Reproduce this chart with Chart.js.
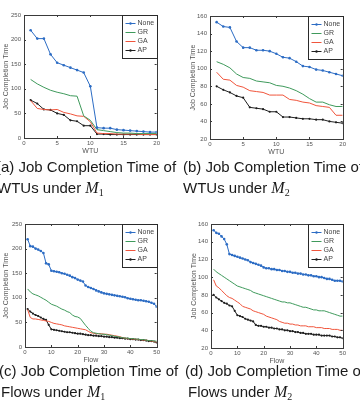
<!DOCTYPE html>
<html>
<head>
<meta charset="utf-8">
<script src="https://cdn.jsdelivr.net/npm/chart.js@4"></script>
<style>
  html, body { margin: 0; padding: 0; background: #fff; }
  body { width: 360px; height: 402px; position: relative; overflow: hidden; font-family: "Liberation Sans", Arial, sans-serif; }
  canvas { position: absolute; }
  .cap { position: absolute; font-size: 15px; color: #1a1a1a; white-space: nowrap; line-height: 22px; }
  .m { font-family: "Liberation Serif", "DejaVu Serif", serif; font-style: italic; font-size: 16px; }
  .m sub { font-style: normal; font-size: 10px; vertical-align: -3px; }
</style>
</head>
<body>
<canvas id="chartA" width="162" height="158" style="left:0;top:0"></canvas>
<canvas id="chartB" width="168" height="159" style="left:180px;top:0"></canvas>
<canvas id="chartC" width="162" height="159" style="left:0;top:208px"></canvas>
<canvas id="chartD" width="168" height="160" style="left:180px;top:208px"></canvas>

<div class="cap" style="left:-4px;top:156px">(a) Job Completion Time of</div>
<div class="cap" style="left:-3px;top:177px">WTUs under <span class="m">M<sub>1</sub></span></div>
<div class="cap" style="left:183px;top:156px">(b) Job Completion Time of</div>
<div class="cap" style="left:183px;top:177px">WTUs under <span class="m">M<sub>2</sub></span></div>
<div class="cap" style="left:-1px;top:360px">(c) Job Completion Time of</div>
<div class="cap" style="left:1px;top:381px">Flows under <span class="m">M<sub>1</sub></span></div>
<div class="cap" style="left:185px;top:360px">(d) Job Completion Time of</div>
<div class="cap" style="left:188px;top:381px">Flows under <span class="m">M<sub>2</sub></span></div>

<script>
// ---- x values ----
const wtu = [1,2,3,4,5,6,7,8,9,10,11,12,13,14,15,16,17,18,19,20];
const flows = [1,2,3,4,5,6,7,8,9,10,11,12,13,14,15,16,17,18,19,20,
               21,22,23,24,25,26,27,28,29,30,31,32,33,34,35,36,37,38,39,40,
               41,42,43,44,45,46,47,48,49,50];

const seriesNames = ['None', 'GR', 'GA', 'AP'];

// ---- (a) WTUs under M1 ----
const aNone = [219,202,202,170,153,148,143,138,133,105,21,20,20,17,16,15,14,13,12,12];
const aGR   = [119,110,103,97,93,90,86,85,45,36,17,15,13,11,10,10,9,9,9,9];
const aGA   = [76,60,58,57,58,52,49,45,44,33,10,9,9,8,8,8,8,7,7,7];
const aAP   = [77,70,58,57,50,47,36,34,25,25,8,8,7,7,7,7,7,7,7,7];

// ---- (b) WTUs under M2 ----
const bNone = [153,148,147,131,124,124,121,121,120,117,113,112,108,103,102,99,98,96,94,92];
const bGR   = [108,105,101,94,90,89,86,85,84,81,80,78,75,71,66,62,62,59,57,57];
const bGA   = [96,88,87,81,79,75,74,73,70,70,70,65,64,62,61,58,57,56,47,47];
const bAP   = [80,76,73,69,67,56,55,54,51,51,45,45,44,43,43,42,42,40,39,38];

// ---- (c) Flows under M1 ----
const cNone = [219,205,204,200,198,195,191,170,168,155,154,153,152,150,149,147,145,142,140,137,
               135,133,125,122,120,118,115,113,111,109,108,107,106,105,104,103,102,101,99,98,
               97,96,95,95,94,93,92,90,88,82];
const cGR   = [118,112,108,106,104,101,98,95,91,87,85,83,80,77,75,72,70,65,62,61,
               58,51,44,38,32,29,28,27,26,26,25,24,23,22,21,20,19,18,18,17,
               17,16,16,15,15,14,13,13,12,12];
const cGA   = [76,60,57,57,56,55,54,53,52,50,48,47,46,45,43,42,41,40,39,38,
               37,36,35,32,29,28,27,27,27,26,26,25,24,23,22,21,19,18,17,17,
               16,16,15,15,14,14,13,12,11,10];
const cAP   = [77,72,68,65,63,60,57,55,45,36,35,34,33,32,31,30,30,29,28,27,
               27,26,25,24,24,23,23,22,22,21,21,20,20,19,19,18,18,17,17,16,
               16,15,15,14,14,13,12,12,11,9];

// ---- (d) Flows under M2 ----
const dNone = [153,150,149,146,143,137,126,125,124,123,122,121,120,119,117,116,115,114,113,111,
               110,110,109,109,108,108,107,107,106,106,105,105,104,104,103,103,102,102,101,101,
               100,100,99,98,98,97,96,96,96,95];
const dGR   = [109,106,104,102,100,98,96,94,92,90,89,88,87,86,85,83,82,81,80,79,
               78,77,76,75,74,73,72,72,71,71,70,69,68,67,66,66,65,64,63,63,
               62,62,62,61,60,59,58,57,56,56];
const dGA   = [97,90,88,85,82,79,77,76,74,72,70,67,66,65,64,62,61,60,59,58,
               56,55,54,53,52,50,49,48,48,47,47,46,46,45,45,45,44,44,44,43,
               43,43,42,42,42,41,41,41,40,40];
const dAP   = [80,77,75,73,71,70,68,67,62,57,56,55,53,52,51,50,46,45,45,44,
               44,43,43,42,42,41,41,40,40,39,39,38,38,37,37,36,36,36,35,35,
               35,34,34,34,34,33,33,32,32,31];

const colors = ['#2c6cc4', '#3f9a5c', '#f0553c', '#1e1e1e'];
const markers = [1.3, 0, 0, 1.1];
const fontFam = '"Liberation Sans", Arial, sans-serif';

// box around plot + inward ticks, MATLAB style
const boxPlugin = {
  id: 'box',
  afterDraw(chart) {
    const ctx = chart.ctx, a = chart.chartArea;
    const xs = chart.scales.x, ys = chart.scales.y;
    ctx.save();
    ctx.strokeStyle = '#3a3a3a';
    ctx.lineWidth = 1;
    ctx.beginPath();
    xs.ticks.forEach(t => {
      const px = Math.round(xs.getPixelForValue(t.value)) + 0.5;
      ctx.moveTo(px, a.bottom); ctx.lineTo(px, a.bottom - 2);
      ctx.moveTo(px, a.top); ctx.lineTo(px, a.top + 2);
    });
    ys.ticks.forEach(t => {
      const py = Math.round(ys.getPixelForValue(t.value)) + 0.5;
      ctx.moveTo(a.left, py); ctx.lineTo(a.left + 2, py);
      ctx.moveTo(a.right, py); ctx.lineTo(a.right - 2, py);
    });
    ctx.stroke();
    ctx.strokeRect(Math.round(a.left) + 0.5, Math.round(a.top) + 0.5,
                   Math.round(a.right - a.left), Math.round(a.bottom - a.top));

    // legend box in the upper right corner
    const w = 35, h = 43;
    const lx = Math.round(a.right - w) + 0.5, ly = Math.round(a.top) + 0.5;
    ctx.fillStyle = '#fff';
    ctx.fillRect(lx, ly, w, h);
    ctx.strokeStyle = '#2a2a2a';
    ctx.strokeRect(lx, ly, w, h);
    ctx.font = '7px ' + fontFam;
    ctx.textBaseline = 'middle';
    chart.data.datasets.forEach((ds, i) => {
      const yy = ly + 8 + i * 9;
      ctx.strokeStyle = ds.borderColor;
      ctx.lineWidth = 1;
      ctx.beginPath();
      ctx.moveTo(lx + 3, yy); ctx.lineTo(lx + 13, yy);
      ctx.stroke();
      if (ds.pointRadius > 0) {
        ctx.fillStyle = ds.borderColor;
        ctx.beginPath();
        ctx.arc(lx + 8, yy, 1.2, 0, Math.PI * 2);
        ctx.fill();
      }
      ctx.fillStyle = '#444';
      ctx.fillText(ds.label, lx + 15, yy);
    });
    ctx.restore();
  }
};

function makeChart(id, xs, series, opt) {
  new Chart(document.getElementById(id), {
    type: 'line',
    data: {
      labels: xs,
      datasets: series.map((s, i) => ({
        label: seriesNames[i],
        data: s,
        borderColor: colors[i],
        backgroundColor: colors[i],
        borderWidth: 1,
        pointRadius: markers[i],
        pointBorderWidth: 0,
        tension: 0,
        fill: false
      }))
    },
    options: {
      responsive: false,
      animation: false,
      layout: { padding: opt.pad },
      plugins: { legend: { display: false }, tooltip: { enabled: false } },
      scales: {
        x: {
          type: 'linear',
          min: 0, max: opt.xMax,
          grid: { display: false, drawTicks: false },
          border: { display: false },
          ticks: { stepSize: opt.xStep, color: '#555', padding: 2, maxRotation: 0,
                   font: { size: 6, family: fontFam } },
          title: { display: true, text: opt.xTitle, color: '#555', padding: { bottom: 3 },
                   font: { size: 7, family: fontFam } },
          afterFit: s => { s.height = 20; }
        },
        y: {
          min: opt.yMin, max: opt.yMax,
          grid: { display: false, drawTicks: false },
          border: { display: false },
          ticks: { stepSize: opt.yStep, color: '#555', padding: 3,
                   font: { size: 6, family: fontFam } },
          title: { display: true, text: 'Job Completion Time', color: '#555', padding: { top: 2 },
                   font: { size: 7, family: fontFam } },
          afterFit: s => { s.width = opt.yWidth; }
        }
      }
    },
    plugins: [boxPlugin]
  });
}

makeChart('chartA', wtu, [aNone, aGR, aGA, aAP],
  { xMax: 20, xStep: 5, yMin: 0, yMax: 250, yStep: 50, xTitle: 'WTU',
    pad: { top: 15, right: 4, left: 0, bottom: 0 }, yWidth: 24 });
makeChart('chartB', wtu, [bNone, bGR, bGA, bAP],
  { xMax: 20, xStep: 5, yMin: 20, yMax: 160, yStep: 20, xTitle: 'WTU',
    pad: { top: 16, right: 4, left: 7, bottom: 0 }, yWidth: 23 });
makeChart('chartC', flows, [cNone, cGR, cGA, cAP],
  { xMax: 50, xStep: 10, yMin: 0, yMax: 250, yStep: 50, xTitle: 'Flow',
    pad: { top: 16, right: 2, left: 0, bottom: 0 }, yWidth: 25 });
makeChart('chartD', flows, [dNone, dGR, dGA, dAP],
  { xMax: 50, xStep: 10, yMin: 20, yMax: 160, yStep: 20, xTitle: 'Flow',
    pad: { top: 16, right: 2, left: 8, bottom: 0 }, yWidth: 23 });
</script>
</body>
</html>
